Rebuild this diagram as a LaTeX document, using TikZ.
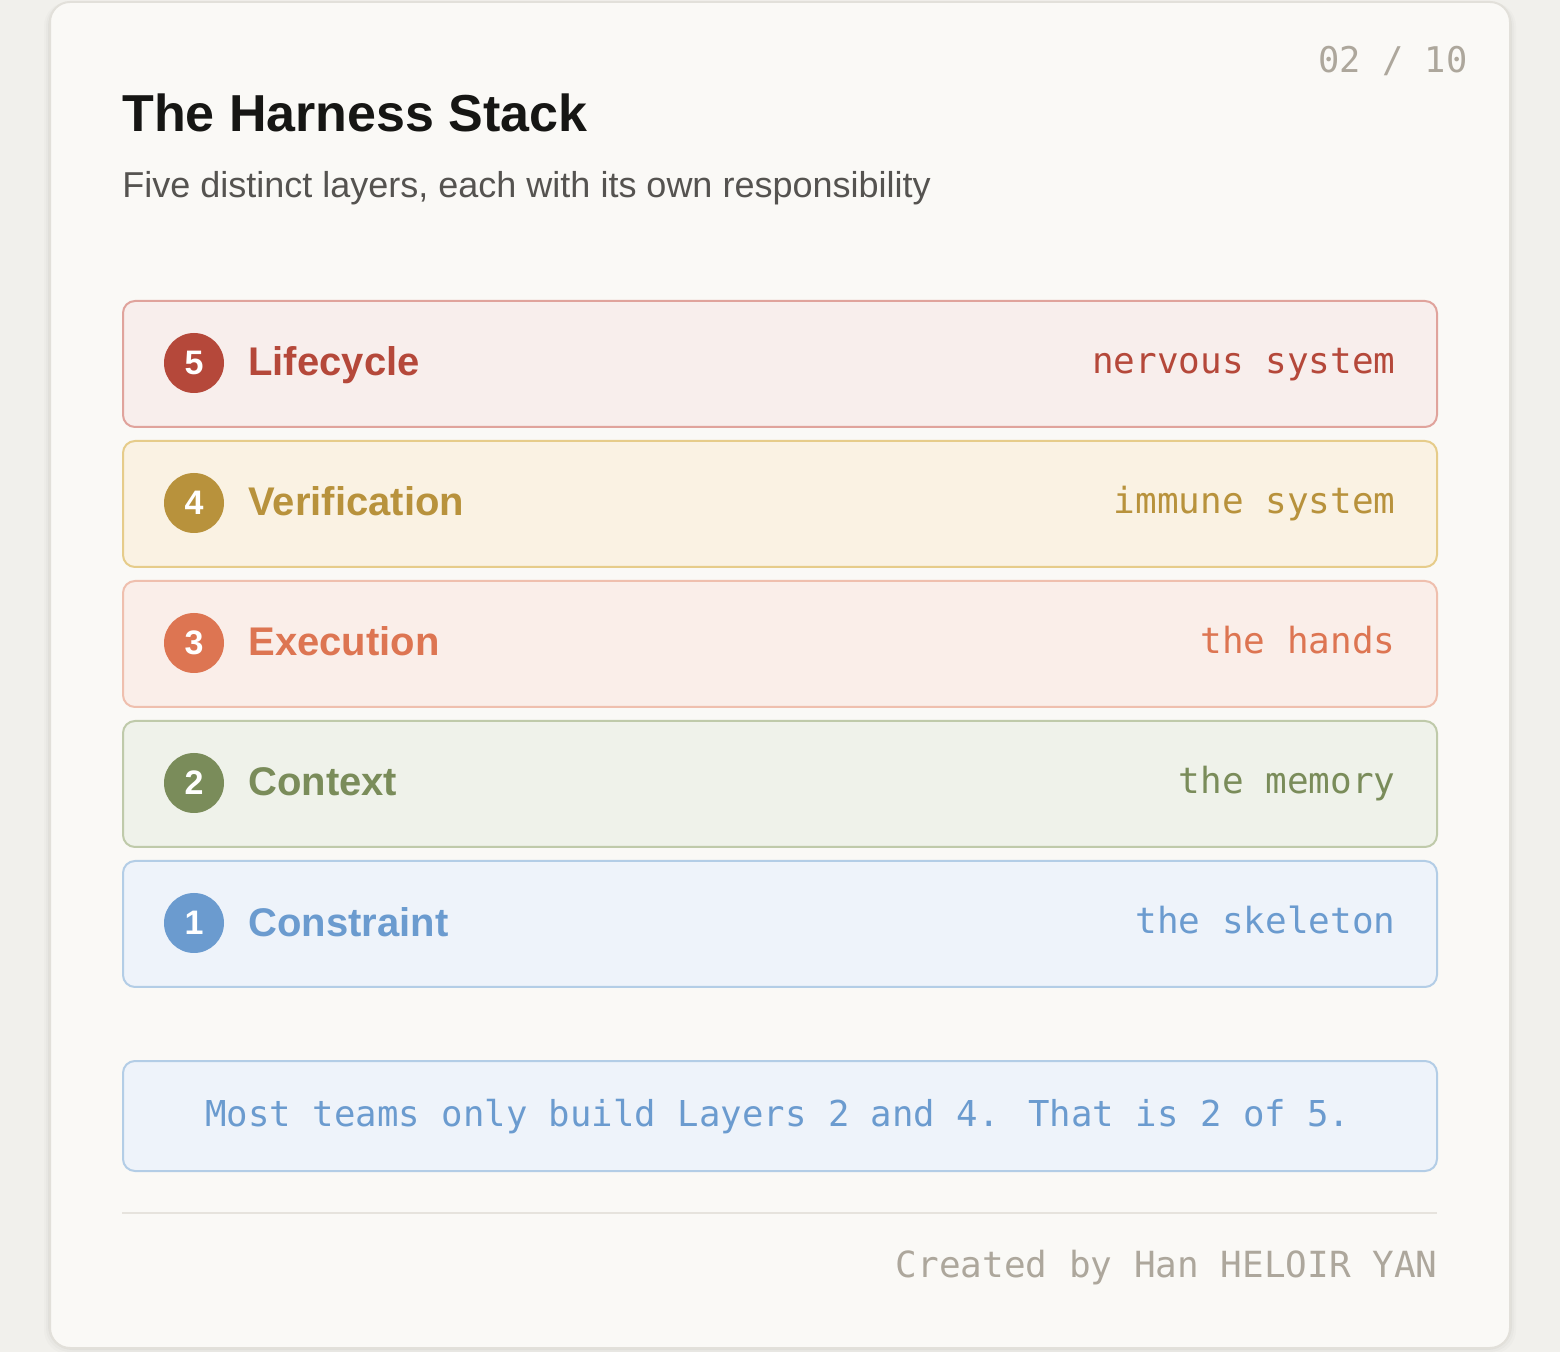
\documentclass[tikz,border=0pt]{standalone}
\usepackage{fontspec}
\setmainfont{Liberation Sans}
\newfontfamily\mono{DejaVu Sans Mono}
\definecolor{pagebg}{HTML}{F1F0EC}
\definecolor{cardbg}{HTML}{FAF9F6}
\definecolor{cardline}{HTML}{E2E0DA}
\definecolor{titlecol}{HTML}{161614}
\definecolor{subcol}{HTML}{555350}
\definecolor{graytxt}{HTML}{ADA79C}
\definecolor{rulecol}{HTML}{E6E3DD}
% layer 5
\definecolor{fiveF}{HTML}{F8EEEC}\definecolor{fiveD}{HTML}{E0A39C}\definecolor{fiveT}{HTML}{B5483A}
% layer 4
\definecolor{fourF}{HTML}{FAF2E3}\definecolor{fourD}{HTML}{E6CC8A}\definecolor{fourT}{HTML}{B8923C}
% layer 3
\definecolor{threeF}{HTML}{FAEEE9}\definecolor{threeD}{HTML}{EFBFAE}\definecolor{threeT}{HTML}{DD7552}
% layer 2
\definecolor{twoF}{HTML}{EFF2EA}\definecolor{twoD}{HTML}{BFCAAA}\definecolor{twoT}{HTML}{7A8C5A}
% layer 1
\definecolor{oneF}{HTML}{EEF3FA}\definecolor{oneD}{HTML}{B3CDE6}\definecolor{oneT}{HTML}{6B9BCF}
\begin{document}
\begin{tikzpicture}[x=0.5pt,y=-0.5pt,
  card/.style={draw=cardline, fill=cardbg, line width=1pt, rounded corners=10pt,
    minimum width=730pt, minimum height=673pt, inner sep=0pt},
  layerbox/.style={line width=1pt, rounded corners=6pt, minimum width=657pt,
    minimum height=63pt, inner sep=0pt},
  numdot/.style={circle, inner sep=0pt, minimum size=30pt, text=white,
    font=\fontsize{17pt}{17pt}\selectfont\bfseries},
  layername/.style={anchor=base west, font=\fontsize{20pt}{20pt}\selectfont\bfseries},
  layerrole/.style={anchor=base east, font=\mono\fontsize{18pt}{18pt}\selectfont},
]
\useasboundingbox (0,0) rectangle (1560,1352);
\fill[pagebg] (0,0) rectangle (1560,1352);
% soft shadow
\foreach \o/\a in {6/0.015,4/0.02,2/0.03}{
  \fill[black, opacity=\a, rounded corners=12pt] (50-\o,2) rectangle (1510+\o,1348+\o);
}
\node[card] (card) at (780,675) {};
% header
\node[anchor=base west, font=\fontsize{26pt}{28pt}\selectfont\bfseries, text=titlecol, inner sep=0pt] (title) at (122,132) {The Harness Stack};
\node[anchor=base west, font=\fontsize{18pt}{20pt}\selectfont, text=subcol, inner sep=0pt] (subtitle) at (122,198) {Five distinct layers, each with its own responsibility};
\node[anchor=base east, font=\mono\fontsize{17.7pt}{18pt}\selectfont, text=graytxt, inner sep=0pt] (page) at (1468,73) {02 / 10};
% layers
\foreach \k/\n/\name/\role/\c [count=\i from 0] in {5/five/Lifecycle/nervous system,
    4/four/Verification/immune system, 3/three/Execution/the hands,
    2/two/Context/the memory, 1/one/Constraint/the skeleton}{
  \pgfmathsetmacro{\yy}{364+140*\i}
  \node[layerbox, draw=\n D, fill=\n F] (box\k) at (780,\yy) {};
  \node[numdot, fill=\n T] (num\k) at (194,\yy-1) {\k};
  \node[layername, text=\n T, inner sep=0pt] (name\k) at (248,\yy+12) {\name};
  \node[layerrole, text=\n T, inner sep=0pt] (role\k) at (1396,\yy+10) {\role};
}
% note
\node[layerbox, draw=oneD, fill=oneF, minimum height=55pt] (note) at (780,1116) {};
\node[anchor=base, font=\mono\fontsize{17.83pt}{18pt}\selectfont, text=oneT, inner sep=0pt] (notetext) at (778,1126) {Most teams only build Layers 2 and 4. That is 2 of 5.};
% footer
\coordinate (ruleL) at (122,1213);
\coordinate (ruleR) at (1437,1213);
\draw[rulecol, line width=1pt] (ruleL) -- (ruleR);
\node[anchor=base east, font=\mono\fontsize{18pt}{18pt}\selectfont, text=graytxt, inner sep=0pt] (credit) at (1438,1277) {Created by Han HELOIR YAN};
\end{tikzpicture}
\end{document}
